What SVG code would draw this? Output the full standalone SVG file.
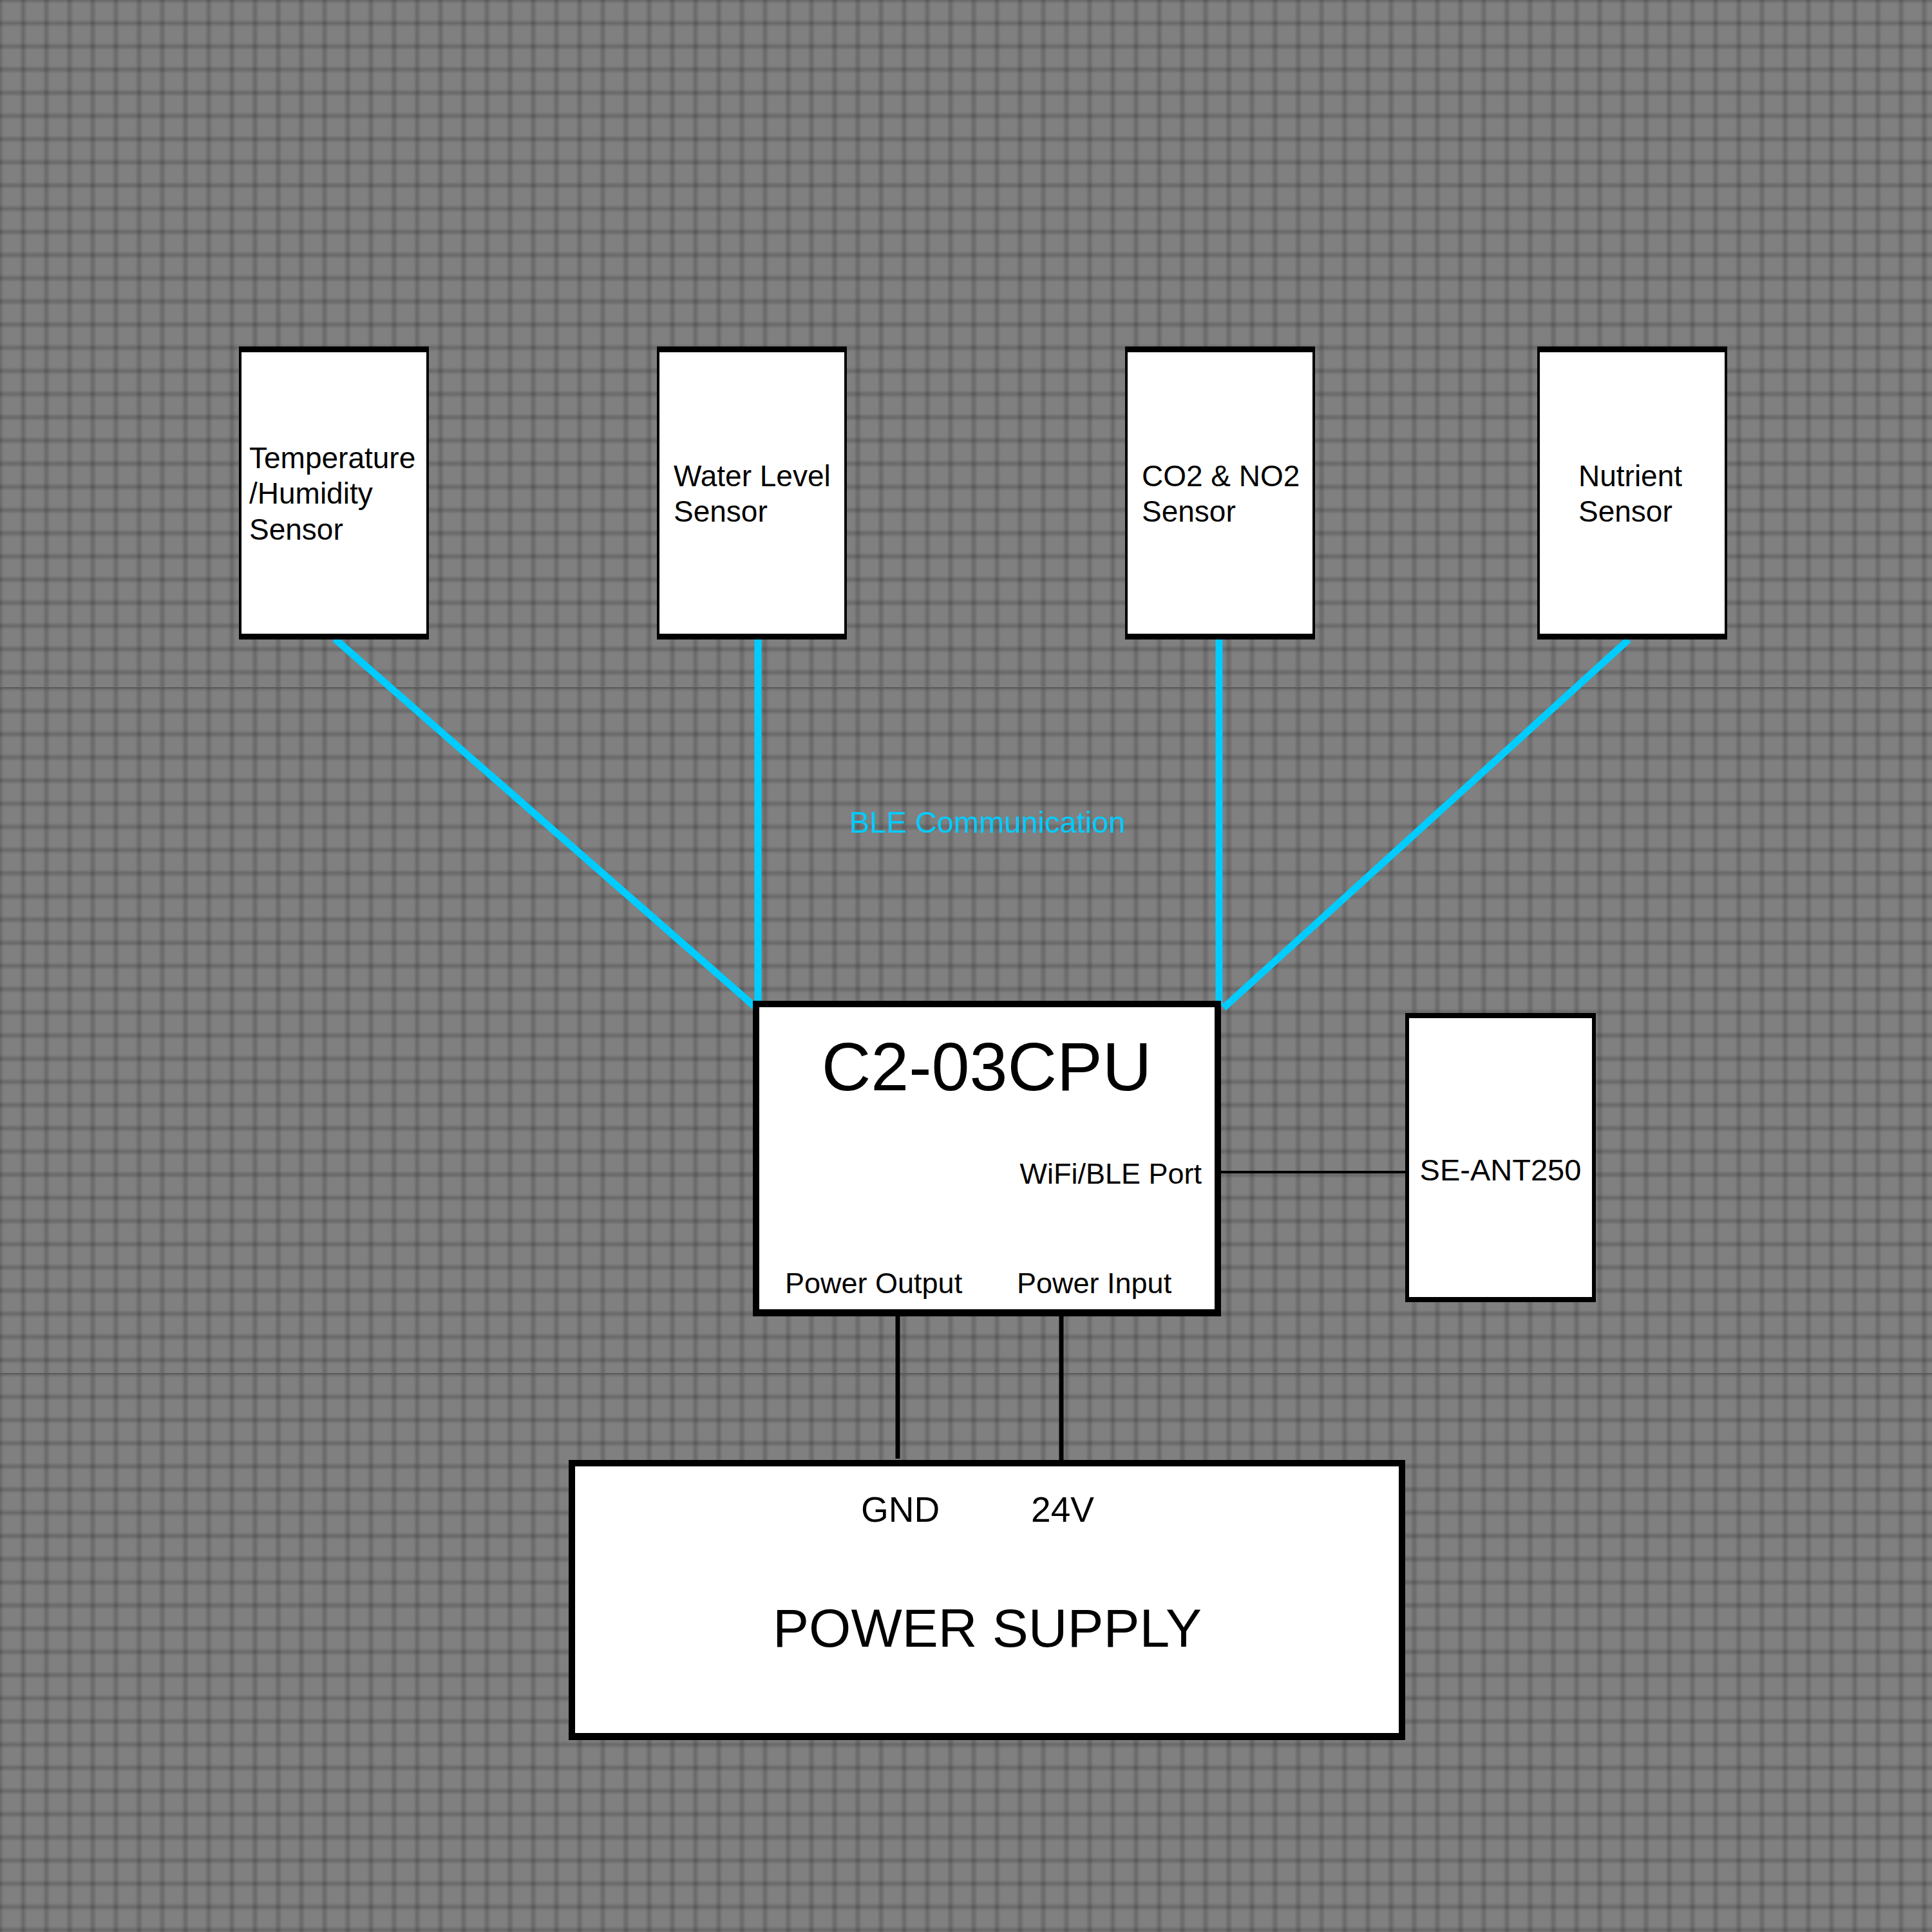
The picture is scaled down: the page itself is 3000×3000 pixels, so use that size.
<svg xmlns="http://www.w3.org/2000/svg" width="3000" height="3000" viewBox="0 0 3000 3000">
  <style>
    .frame { fill: #000000; }
    .body { fill: #ffffff; }
    .t { font-family: "Liberation Sans", Arial, sans-serif; fill: #000000; }
    .s46 { font-size: 46px; }
    .ble { stroke: #00CCFF; stroke-width: 11; fill: none; }
    .wire { stroke: #000000; fill: none; }
    .seam { stroke: #5a5a5a; stroke-width: 2; }
  </style>
  <defs>
    <linearGradient id="gv" x1="0" y1="0" x2="1" y2="0">
      <stop offset="0" stop-color="#000" stop-opacity="0"/>
      <stop offset="0.5" stop-color="#000" stop-opacity="0.18"/>
      <stop offset="1" stop-color="#000" stop-opacity="0"/>
    </linearGradient>
    <linearGradient id="gh" x1="0" y1="0" x2="0" y2="1">
      <stop offset="0" stop-color="#000" stop-opacity="0"/>
      <stop offset="0.5" stop-color="#000" stop-opacity="0.18"/>
      <stop offset="1" stop-color="#000" stop-opacity="0"/>
    </linearGradient>
    <pattern id="grid" patternUnits="userSpaceOnUse" x="-18" y="-18" width="36" height="36">
      <rect x="12" y="0" width="12" height="36" fill="url(#gv)"/>
      <rect x="0" y="12" width="36" height="12" fill="url(#gh)"/>
    </pattern>
  </defs>

  <g id="background">
    <rect x="0" y="0" width="3000" height="3000" fill="#808080"/>
    <rect x="0" y="0" width="3000" height="1068" fill="url(#grid)"/>
    <g transform="translate(0,1068)"><rect x="0" y="0" width="3000" height="1065" fill="url(#grid)"/></g>
    <g transform="translate(0,2133)"><rect x="0" y="0" width="3000" height="867" fill="url(#grid)"/></g>
    <line class="seam" x1="0" y1="1068" x2="3000" y2="1068"/>
    <line class="seam" x1="0" y1="2133" x2="3000" y2="2133"/>
  </g>

  <g id="connectors">
    <line class="ble" x1="520" y1="992" x2="1172" y2="1563"/>
    <line class="ble" x1="1177" y1="992" x2="1177" y2="1562"/>
    <line class="ble" x1="1893" y1="992" x2="1893" y2="1562"/>
    <line class="ble" x1="2529" y1="993" x2="1900" y2="1565"/>
    <line class="wire" stroke-width="4" x1="1896" y1="1820" x2="2182" y2="1820"/>
    <line class="wire" stroke-width="7" x1="1394" y1="2044" x2="1394" y2="2265"/>
    <line class="wire" stroke-width="7" x1="1648" y1="2044" x2="1648" y2="2267"/>
  </g>

  <text id="ble-label" class="t" x="1319" y="1293" font-size="47" style="fill:#00CCFF">BLE Communication</text>

  <g id="sensor-temp">
    <rect class="frame" x="371" y="538" width="295" height="455"/>
    <rect class="body" x="375" y="547" width="287" height="437"/>
    <text class="t s46" x="387" y="727">Temperature</text>
    <text class="t s46" x="387" y="782">/Humidity</text>
    <text class="t s46" x="387" y="838">Sensor</text>
  </g>

  <g id="sensor-water">
    <rect class="frame" x="1020" y="538" width="295" height="455"/>
    <rect class="body" x="1024" y="547" width="287" height="437"/>
    <text class="t s46" x="1046" y="755">Water Level</text>
    <text class="t s46" x="1046" y="810">Sensor</text>
  </g>

  <g id="sensor-co2">
    <rect class="frame" x="1747" y="538" width="295" height="455"/>
    <rect class="body" x="1751" y="547" width="287" height="437"/>
    <text class="t s46" x="1773" y="755">CO2 &amp; NO2</text>
    <text class="t s46" x="1773" y="810">Sensor</text>
  </g>

  <g id="sensor-nutrient">
    <rect class="frame" x="2387" y="538" width="295" height="455"/>
    <rect class="body" x="2391" y="547" width="287" height="437"/>
    <text class="t s46" x="2451" y="755">Nutrient</text>
    <text class="t s46" x="2451" y="810">Sensor</text>
  </g>

  <g id="cpu">
    <rect class="frame" x="1169" y="1554" width="727" height="490"/>
    <rect class="body" x="1179" y="1564" width="707" height="469"/>
    <text class="t" x="1532" y="1693" font-size="106" text-anchor="middle">C2-03CPU</text>
    <text class="t" x="1866" y="1838" font-size="45" text-anchor="end">WiFi/BLE Port</text>
    <text class="t" x="1219" y="2008" font-size="45">Power Output</text>
    <text class="t" x="1579" y="2008" font-size="45">Power Input</text>
  </g>

  <g id="antenna">
    <rect class="frame" x="2182" y="1573" width="296" height="449"/>
    <rect class="body" x="2188" y="1581" width="284" height="433"/>
    <text class="t" x="2330" y="1833" font-size="47" text-anchor="middle">SE-ANT250</text>
  </g>

  <g id="power-supply">
    <rect class="frame" x="883" y="2267" width="1299" height="435"/>
    <rect class="body" x="893" y="2277" width="1279" height="414"/>
    <text class="t" x="1398" y="2363" font-size="55" text-anchor="middle">GND</text>
    <text class="t" x="1650" y="2363" font-size="55" text-anchor="middle">24V</text>
    <text class="t" x="1533" y="2557" font-size="84" text-anchor="middle">POWER SUPPLY</text>
  </g>
</svg>
